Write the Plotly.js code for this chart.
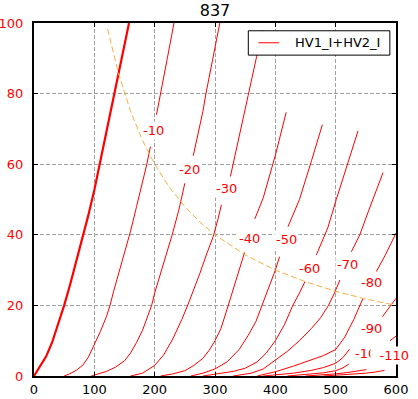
<!DOCTYPE html>
<html>
<head>
<meta charset="utf-8">
<script src="https://cdn.plot.ly/plotly-3.0.1.min.js"></script>
<style>html,body{margin:0;padding:0;background:#fff;}#chart{width:418px;height:399px;}</style>
</head>
<body>
<div id="chart"></div>
<script>
// Plate voltage (V) and current (mA), one pair of arrays per grid voltage.
// null marks the break in a curve where its label sits.
var grid0_V   = [0,10,20,30,40,50,60,70,82,90,100,110,120,134,145,157.5];
var grid0_I   = [0,2.6,5.5,9.5,14.5,20,26,32.5,40,45.5,52.7,61,69,80,89,100];
var grid10_V  = [50,59,70,81,90,100,110,120,126,132,140,152,160,170,180,187,193,null,203,210,221,232];
var grid10_I  = [0,0.6,1.6,3.1,5.3,8.8,12.6,16.8,20,24,28.8,35.7,41,48,55,60,65,null,74,80,90,100];
var grid20_V  = [95,105,120,135,150,160,170,180,190,195,200,210,222,229,240,250,null,264,272,280,285,296,308];
var grid20_I  = [0,0.6,1.3,2.5,4.3,6.5,9.5,13,17.5,20,23.5,29,36,40,47,54.6,null,62.4,68.5,75,80,90,100];
var grid30_V  = [160,180,200,215,230,245,257,265,275,285,297,305,310.6,null,325.5,340,355,369,378];
var grid30_I  = [0,0.8,3,6,10.5,16,21,24.5,29.1,34,39.5,44.5,48.5,null,56.5,67.5,79.5,90.5,98];
var grid40_V  = [210,230,250,265,280,290,300,310,322,335,349,null,366,380,400,418];
var grid40_I  = [0,0.6,1.5,3,5,7.2,10,13.5,20,27,35,null,44.5,50.5,62.5,74.7];
var grid50_V  = [260,280,300,320,340,355,368,378,390,400,407,null,421,440,460,478];
var grid50_I  = [0,0.8,2,4,7.5,11.5,15.5,20,25,30,33.8,null,42.3,50,61,71.2];
var grid60_V  = [280,300,330,350,370,385,400,415,429,440,449,null,468,487,501,520,537];
var grid60_I  = [0,0.5,1.3,2.2,4,6.5,10,14.5,20,23.5,26.7,null,34.3,42,50,60,69.4];
var grid70_V  = [330,360,380,400,420,440,460,475,488,498,507,null,526,540,555,578.5];
var grid70_I  = [0,0.8,2,4.5,7,10,13.5,16.5,20,23.5,27.2,null,35.2,40,47,57.6];
var grid80_V  = [370,400,430,460,480,500,515,530,541,545.3,null,567.5,583,600];
var grid80_I  = [0,1.2,2.8,4.5,5.8,7.5,11,16,20,22,null,29.6,34.5,40.5];
var grid90_V  = [380,400,430,460,480,500,512,523,null,577.5,590,600];
var grid90_I  = [0,0.3,0.8,1.6,2.4,3.6,5.2,7.6,null,16.8,19.5,22];
var grid100_V = [420,450,480,500,512,522,null,590,600];
var grid100_I = [0,0.4,0.9,1.5,2.3,3.4,null,10,11.3];
var grid110_V = [450,480,500,520,540,551];
var grid110_I = [0,0.3,0.6,1.0,1.4,1.8];
var grid120_V = [480,520,550,565,581];
var grid120_I = [0,0.4,0.8,1.1,1.6];

// Plate dissipation limit (dashed orange)
var pmax_V = [122,140,160,180,200,225,250,275,300,350,400,450,500,550,600];
var pmax_I = [98.3,85.7,75,66.7,60,53.3,48,43.6,40,34.3,30,26.7,24,21.8,20];

// Curve labels
var labelText = ['-10','-20','-30','-40','-50','-60','-70','-80','-90','-100','-110'];
var labelV    = [198.4,258,319,357.5,418.4,457,519,559,559,557.6,600];
var labelI    = [69.5,58.5,53.2,39,38.6,30.5,31.5,26.5,13.5,6.4,5.7];

var seriesName = 'HV1_I+HV2_I';
var titleText = '837';
var xTicks = [0,100,200,300,400,500,600];
var yTicks = [0,20,40,60,80,100];

var thin = [
  [grid10_V, grid10_I], [grid20_V, grid20_I], [grid30_V, grid30_I], [grid40_V, grid40_I],
  [grid50_V, grid50_I], [grid60_V, grid60_I], [grid70_V, grid70_I], [grid80_V, grid80_I],
  [grid90_V, grid90_I], [grid100_V, grid100_I], [grid110_V, grid110_I], [grid120_V, grid120_I]
];

var FONT = 'DejaVu Sans, Liberation Sans, sans-serif';
var traces = [];
traces.push({x: grid0_V, y: grid0_I, type: 'scatter', mode: 'lines',
  line: {color: 'red', width: 2.2}, showlegend: false, hoverinfo: 'skip'});
thin.forEach(function (c, i) {
  traces.push({x: c[0], y: c[1], type: 'scatter', mode: 'lines', connectgaps: false,
    name: seriesName, showlegend: false,
    line: {color: 'red', width: 1}, hoverinfo: 'skip'});
});
traces.push({x: pmax_V, y: pmax_I, type: 'scatter', mode: 'lines',
  line: {color: '#f5b041', width: 1, dash: '6px,3px'}, showlegend: false, hoverinfo: 'skip'});

var annotations = labelText.map(function (t, i) {
  var a = {x: labelV[i], y: labelI[i], xref: 'x', yref: 'y', text: t, showarrow: false,
    font: {family: FONT, size: 13, color: 'red'}, bgcolor: 'white',
    borderpad: 1, xanchor: 'center', yanchor: 'middle'};
  if (t === '-110') {
    // label box reaches a little to the left of its text, hiding part of the "-100" label
    a.xanchor = 'right'; a.xshift = 15; a.width = 37; a.align = 'right';
  }
  return a;
});
// legend text (drawn by hand so the box matches the reference)
annotations.push({xref: 'paper', yref: 'paper', x: 0.716, y: 0.944, xanchor: 'left', yanchor: 'middle',
  text: seriesName, showarrow: false, font: {family: FONT, size: 13, color: 'black'}});

var shapes = [
  {type: 'rect', xref: 'paper', yref: 'paper', x0: 0.592, x1: 0.983, y0: 0.909, y1: 0.978,
   fillcolor: 'white', line: {color: 'black', width: 1}, layer: 'above'},
  {type: 'line', xref: 'paper', yref: 'paper', x0: 0.620, x1: 0.677, y0: 0.944, y1: 0.944,
   line: {color: 'red', width: 1}, layer: 'above'}
];

var axisCommon = {
  showgrid: true, gridcolor: '#a0a0a0', gridwidth: 1, griddash: '4px,2px',
  showline: true, linecolor: 'black', linewidth: 2, mirror: 'ticks',
  ticks: 'inside', ticklen: 4, tickcolor: 'black', tickwidth: 1,
  zeroline: false, fixedrange: true
};

var layout = {
  width: 418, height: 399,
  margin: {l: 34, r: 22, t: 23, b: 23, pad: 0},
  paper_bgcolor: 'white', plot_bgcolor: 'white',
  font: {family: FONT, size: 13, color: 'black'},
  title: {text: titleText, font: {family: FONT, size: 16, color: 'black'},
    xref: 'paper', x: 0.5, xanchor: 'center', yref: 'container', y: 0.974, yanchor: 'middle'},
  xaxis: Object.assign({}, axisCommon, {range: [0, 600], tickvals: xTicks,
    tickfont: {family: FONT, size: 13, color: 'black'}, ticklabelstandoff: 0}),
  yaxis: Object.assign({}, axisCommon, {range: [0, 100], tickvals: yTicks,
    tickfont: {family: FONT, size: 13, color: 'red'}, ticklabelstandoff: 6}),
  showlegend: false,
  annotations: annotations,
  shapes: shapes
};

Plotly.newPlot('chart', traces, layout, {staticPlot: true, displayModeBar: false});
</script>
</body>
</html>
